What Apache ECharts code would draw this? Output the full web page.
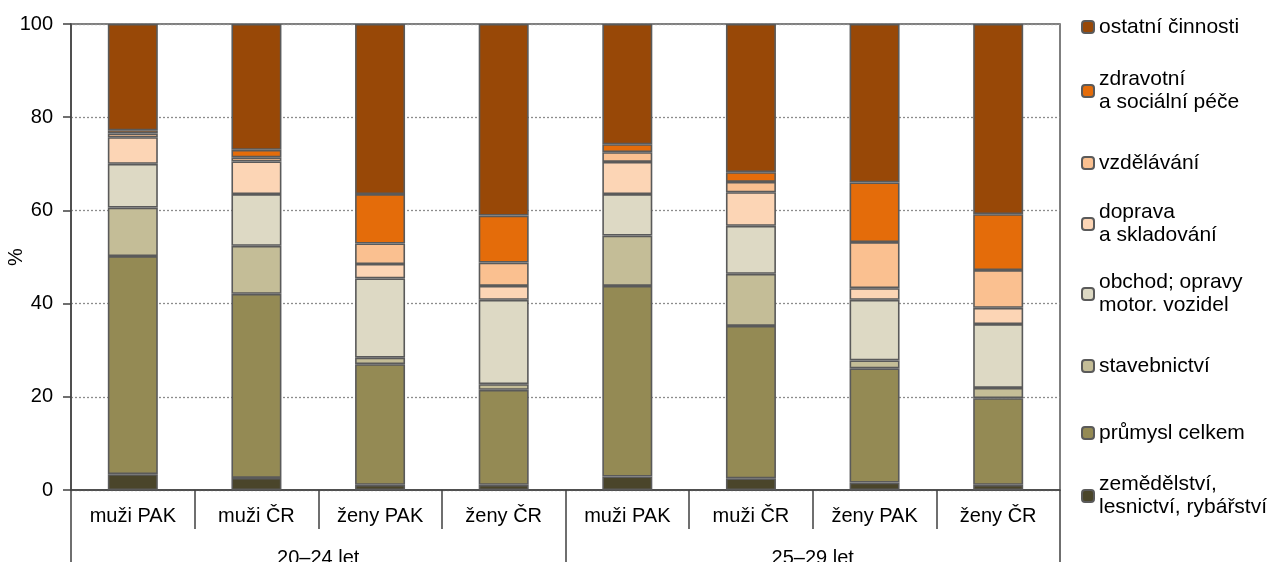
<!DOCTYPE html>
<html>
<head>
<meta charset="utf-8">
<script src="https://cdn.jsdelivr.net/npm/echarts@6/dist/echarts.min.js"></script>
<style>
html,body{margin:0;padding:0;background:#fff;}
#chart{width:1279px;height:562px;}
</style>
</head>
<body>
<div id="chart"></div>
<script>
// Categories
var categories = ['muži PAK', 'muži ČR', 'ženy PAK', 'ženy ČR', 'muži PAK', 'muži ČR', 'ženy PAK', 'ženy ČR'];
var groups = ['20–24 let', '25–29 let'];
var yTicks = [0, 20, 40, 60, 80, 100];

// Series names (bottom to top of stack)
var names = [
  'zemědělství,\nlesnictví, rybářství',
  'průmysl celkem',
  'stavebnictví',
  'obchod; opravy\nmotor. vozidel',
  'doprava\na skladování',
  'vzdělávání',
  'zdravotní\na sociální péče',
  'ostatní činnosti'
];

// Values (%)
var zemedelstvi = [3.4, 2.6, 1.1, 1.1, 2.9, 2.5, 1.6, 1.1];
var prumysl     = [46.8, 39.5, 25.9, 20.4, 40.9, 32.7, 24.5, 18.6];
var stavebnictvi= [10.4, 10.3, 1.4, 1.2, 10.8, 11.2, 1.7, 2.2];
var obchod      = [9.4, 11.1, 17.0, 18.1, 8.9, 10.3, 13.0, 13.7];
var doprava     = [5.7, 7.0, 3.1, 3.0, 6.9, 7.2, 2.5, 3.5];
var vzdelavani  = [0.8, 0.9, 4.4, 5.0, 2.1, 2.2, 9.9, 8.1];
var zdravotni   = [0.7, 1.6, 10.6, 10.1, 1.7, 2.1, 12.8, 12.0];
var ostatni     = [22.8, 27.0, 36.5, 41.1, 25.8, 31.8, 34.0, 40.8];

var values = [zemedelstvi, prumysl, stavebnictvi, obchod, doprava, vzdelavani, zdravotni, ostatni];
var colors = ['#4A452A', '#948A54', '#C4BD97', '#DDD9C4', '#FCD5B5', '#FAC090', '#E46C0A', '#984807'];

// legend layout: top-to-bottom order and first-line centre positions
var legendOrder = [7, 6, 5, 4, 3, 2, 1, 0];
var legendY = [27, 97, 163, 230, 300, 366, 433, 502];

var FONT = 'Liberation Sans, Arial, sans-serif';
var LH = 23;

var legends = legendOrder.map(function (si, k) {
  var twoLine = names[si].indexOf('\n') >= 0;
  return {
    data: [names[si]],
    orient: 'vertical',
    left: 1081,
    top: legendY[k] - (twoLine ? 6 + LH * 1.5 : 6 + LH * 0.5 - 6),
    itemWidth: 12,
    itemHeight: 12,
    itemGap: 0,
    padding: 0,
    selectedMode: false,
    textStyle: {
      fontFamily: FONT,
      fontSize: 21,
      color: '#000',
      lineHeight: LH,
      padding: twoLine ? [LH, 0, 0, 0] : 0
    }
  };
});

var series = values.map(function (v, i) {
  return {
    name: names[i],
    type: 'bar',
    stack: 'total',
    barWidth: 50,
    data: v,
    itemStyle: { color: colors[i], borderColor: '#5a5a5a', borderWidth: 1.6 },
    emphasis: { disabled: true }
  };
});

var chart = echarts.init(document.getElementById('chart'), null, { renderer: 'canvas' });
chart.setOption({
  animation: false,
  backgroundColor: '#fff',
  textStyle: { fontFamily: FONT },
  grid: {
    left: 71, right: 219, top: 24, bottom: 72,
    outerBoundsMode: 'none',
    containLabel: false,
    show: true, borderColor: '#555', borderWidth: 1.5, backgroundColor: 'transparent'
  },
  legend: legends,
  xAxis: [
    {
      type: 'category',
      data: categories,
      position: 'bottom',
      axisLine: { show: true, lineStyle: { color: '#404040', width: 1.5 } },
      axisTick: { show: true, length: 39, interval: 0, lineStyle: { color: '#404040', width: 1.5 } },
      axisLabel: { margin: 16, fontSize: 20, color: '#000', fontFamily: FONT, interval: 0 }
    },
    {
      type: 'category',
      data: groups,
      position: 'bottom',
      axisLine: { show: false },
      axisTick: { show: true, length: 80, interval: 0, lineStyle: { color: '#404040', width: 1.5 } },
      axisLabel: { margin: 58, fontSize: 20, color: '#000', fontFamily: FONT, interval: 0 }
    }
  ],
  yAxis: {
    type: 'value',
    min: 0, max: 100, interval: 20,
    name: '%',
    nameLocation: 'middle',
    nameGap: 45,
    nameRotate: 90,
    nameMoveOverlap: false,
    nameTextStyle: { fontSize: 20, color: '#000', fontFamily: FONT },
    axisLine: { show: true, lineStyle: { color: '#404040', width: 1.5 } },
    axisTick: { show: true, length: 8, lineStyle: { color: '#404040', width: 1.5 } },
    axisLabel: {
      margin: 18, fontSize: 20, color: '#000', fontFamily: FONT,
      formatter: function (v) { return yTicks.indexOf(v) >= 0 ? String(v) : ''; }
    },
    splitLine: { show: true, lineStyle: { color: '#8c8c8c', type: [2, 2], width: 1.3 } }
  },
  series: series
});
</script>
</body>
</html>
